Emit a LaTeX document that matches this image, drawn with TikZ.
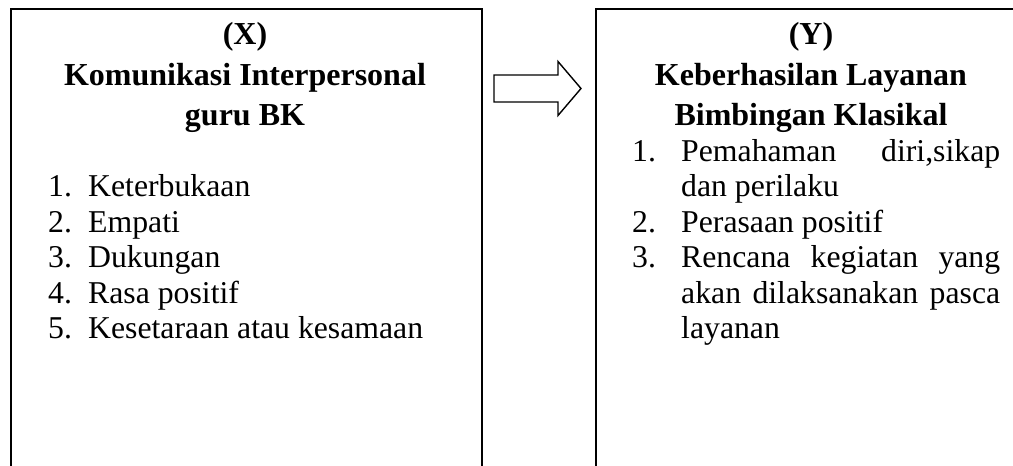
\documentclass[tikz,border=0pt]{standalone}
\usepackage{fontspec}
\setmainfont{Liberation Serif}
\begin{document}
\begin{tikzpicture}[x=1pt,y=-1pt,
  boxline/.style={draw=black,line width=1.6pt},
  frame/.style={boxline,rectangle,inner sep=0pt,anchor=north west},
  head/.style={font=\bfseries\fontsize{32}{40}\selectfont,inner sep=0pt,anchor=base},
  item/.style={font=\fontsize{31.75}{36}\selectfont,inner sep=0pt,anchor=base west}]
\useasboundingbox (0,0) rectangle (1013,466);
\begin{scope}
\clip (0,0) rectangle (1013,466);
\node[frame,minimum width=471pt,minimum height=520pt] (boxX) at (10,8) {};
\node[frame,minimum width=520pt,minimum height=520pt] (boxY) at (595,8) {};
\end{scope}
% hollow arrow
\coordinate (arL) at (494,88.5);
\draw[boxline,line width=1.4pt,line join=miter]
  (arL) ++(0,-13.5) -- ++(64,0) -- ++(0,-13.5) -- (581,88.5)
  -- (558,115.5) -- ++(0,-13.5) -- ++(-64,0) -- cycle;
% left headings
\node[head] (hx1) at (245,44) {(X)};
\node[head] (hx2) at (245,85) {Komunikasi Interpersonal};
\node[head] (hx3) at (245,125) {guru BK};
% left list
\node[item] (xn1) at (48,196.5) {1.};
\node[item] (xt1) at (88,196.5) {Keterbukaan};
\node[item] (xn2) at (48,232) {2.};
\node[item] (xt2) at (88,232) {Empati};
\node[item] (xn3) at (48,267.5) {3.};
\node[item] (xt3) at (88,267.5) {Dukungan};
\node[item] (xn4) at (48,303) {4.};
\node[item] (xt4) at (88,303) {Rasa positif};
\node[item] (xn5) at (48,338.5) {5.};
\node[item] (xt5) at (88,338.5) {Kesetaraan atau kesamaan};
% right headings
\node[head] (hy1) at (811,44) {(Y)};
\node[head] (hy2) at (811,85) {Keberhasilan Layanan};
\node[head] (hy3) at (811,125) {Bimbingan Klasikal};
% right list
\node[item] (yn1) at (632,161) {1.};
\node[item] (yt1a) at (681,161) {\hbox to 319pt{Pemahaman\hfill diri,sikap}};
\node[item] (yt1b) at (681,196.5) {dan perilaku};
\node[item] (yn2) at (632,232) {2.};
\node[item] (yt2) at (681,232) {Perasaan positif};
\node[item] (yn3) at (632,267.5) {3.};
\node[item] (yt3a) at (681,267.5) {\hbox to 319pt{Rencana\hfill kegiatan\hfill yang}};
\node[item] (yt3b) at (681,303) {\hbox to 319pt{akan\hfill dilaksanakan\hfill pasca}};
\node[item] (yt3c) at (681,338.5) {layanan};
\end{tikzpicture}
\end{document}
